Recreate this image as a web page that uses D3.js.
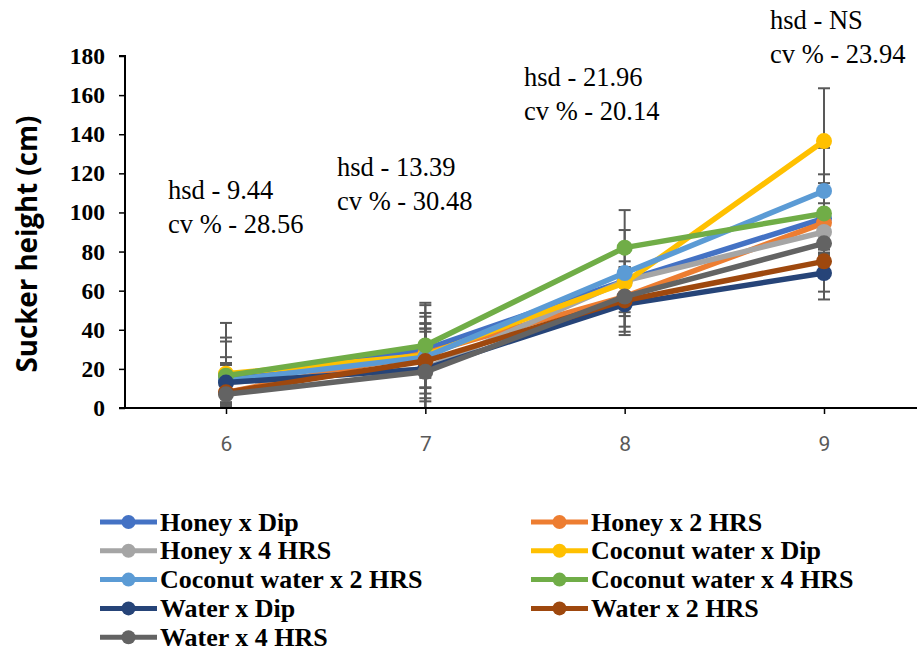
<!DOCTYPE html>
<html>
<head>
<meta charset="utf-8">
<script src="https://cdn.jsdelivr.net/npm/d3@7"></script>
<style>
  html, body { margin: 0; padding: 0; background: #fff; }
  svg { display: block; }
</style>
</head>
<body>
<svg id="chart" width="917" height="652"></svg>
<script>
// ---- data ----
const categories = [6, 7, 8, 9];
const seriesNames = [
  "Honey x Dip", "Honey x 2 HRS", "Honey x 4 HRS",
  "Coconut water x Dip", "Coconut water x 2 HRS", "Coconut water x 4 HRS",
  "Water x Dip", "Water x 2 HRS", "Water x 4 HRS"
];
const seriesColors = ["#4472C4", "#ED7D31", "#A5A5A5", "#FFC000", "#5B9BD5", "#70AD47", "#264478", "#9E480E", "#636363"];
const honeyDip      = [16, 30, 65, 97];
const honey2        = [8, 28, 57, 94.7];
const honey4        = [13, 20, 65, 90];
const coconutDip    = [17.5, 27, 64, 136.5];
const coconut2      = [14, 26, 69, 111];
const coconut4      = [16.5, 32, 82, 99.5];
const waterDip      = [13, 20, 53, 69];
const water2        = [8, 24, 55, 75];
const water4        = [7, 18.5, 57, 84.2];
const errHoneyDip   = [18, 22.6, 6, 18];
const errHoney2     = [7, 12.6, 8, 10];
const errHoney4     = [10, 20.6, 7, 9];
const errCoconutDip = [26, 16.4, 8, 27];
const errCoconut2   = [8, 22.6, 22, 22];
const errCoconut4   = [19.5, 21.8, 19.2, 20];
const errWaterDip   = [13, 26.7, 15.7, 13.5];
const errWater2     = [6, 19, 13.4, 15.5];
const errWater4     = [5, 20.5, 18, 6];
const yTicks = [0, 20, 40, 60, 80, 100, 120, 140, 160, 180];
const annotations = [
  ["hsd - 9.44", "cv % - 28.56"],
  ["hsd - 13.39", "cv % - 30.48"],
  ["hsd - 21.96", "cv % - 20.14"],
  ["hsd - NS", "cv % - 23.94"]
];
const yTitle = "Sucker height (cm)";

const values = [honeyDip, honey2, honey4, coconutDip, coconut2, coconut4, waterDip, water2, water4];
const errors = [errHoneyDip, errHoney2, errHoney4, errCoconutDip, errCoconut2, errCoconut4, errWaterDip, errWater2, errWater4];

// ---- layout ----
const svg = d3.select("#chart");
const plotL = 125, plotR = 917, plotT = 56, plotB = 408;
const x = d3.scalePoint().domain(categories).range([226, 824]);
const y = d3.scaleLinear().domain([0, 180]).range([plotB, plotT]);

svg.append("defs").append("clipPath").attr("id", "plotclip")
  .append("rect").attr("x", plotL).attr("y", 0).attr("width", plotR - plotL).attr("height", plotB - 0);

// annotations
const annPos = [[168, 199], [337, 176], [524, 86], [770, 29]];
annotations.forEach((a, i) => {
  a.forEach((t, j) => {
    svg.append("text")
      .attr("x", annPos[i][0]).attr("y", annPos[i][1] + j * 34)
      .attr("font-family", "'Liberation Serif', 'Times New Roman', serif")
      .attr("font-size", 26.5).attr("fill", "#000").text(t);
  });
});

// error bars
const eb = svg.append("g").attr("clip-path", "url(#plotclip)");
values.forEach((vals, s) => {
  vals.forEach((v, i) => {
    const cx = x(categories[i]);
    const e = errors[s][i];
    const y1 = y(v + e), y2 = y(v - e);
    eb.append("line").attr("x1", cx).attr("x2", cx).attr("y1", y1).attr("y2", y2)
      .attr("stroke", "#595959").attr("stroke-width", 2);
    [y1, y2].forEach(yy => {
      eb.append("line").attr("x1", cx - 6).attr("x2", cx + 6).attr("y1", yy).attr("y2", yy)
        .attr("stroke", "#595959").attr("stroke-width", 2);
    });
  });
});

// axes
const yAxis = d3.axisLeft(y).tickValues(yTicks).tickSize(6).tickPadding(14);
const gy = svg.append("g").attr("transform", `translate(${plotL},0)`).call(yAxis);
gy.select(".domain").attr("stroke", "#000").attr("stroke-width", 2).attr("d", `M-6,${plotT}H0V${plotB}H-6`);
gy.selectAll(".tick line").attr("stroke", "#000").attr("stroke-width", 1.5);
gy.selectAll(".tick text").attr("font-family", "'Liberation Serif', 'Times New Roman', serif")
  .attr("font-weight", "bold").attr("font-size", 23.5).attr("fill", "#000");

const xAxis = d3.axisBottom(x).tickSize(6).tickPadding(22);
const gx = svg.append("g").attr("transform", `translate(0,${plotB})`).call(xAxis);
gx.select(".domain").attr("stroke", "#000").attr("stroke-width", 2).attr("d", `M${plotL},0H${plotR}`);
gx.selectAll(".tick line").attr("stroke", "#000").attr("stroke-width", 1.5);
gx.selectAll(".tick text").attr("font-family", "Roboto, 'Open Sans', sans-serif")
  .attr("font-size", 21).attr("fill", "#595959");

svg.append("text")
  .attr("transform", `translate(37,${(plotT + plotB) / 2 + 12}) rotate(-90)`)
  .attr("text-anchor", "middle")
  .attr("font-family", "'Open Sans', 'Noto Sans', sans-serif")
  .attr("font-weight", "bold").attr("font-size", 28).attr("fill", "#000")
  .attr("textLength", 257).attr("lengthAdjust", "spacingAndGlyphs")
  .text(yTitle);

// lines + markers
const line = d3.line().x((d, i) => x(categories[i])).y(d => y(d));
values.forEach((vals, s) => {
  const g = svg.append("g");
  g.append("path").datum(vals).attr("d", line).attr("fill", "none")
    .attr("stroke", seriesColors[s]).attr("stroke-width", 5.5).attr("stroke-linejoin", "round");
  g.selectAll("circle").data(vals).join("circle")
    .attr("cx", (d, i) => x(categories[i])).attr("cy", d => y(d)).attr("r", 8)
    .attr("fill", seriesColors[s]);
});

// legend
const legend = svg.append("g");
seriesNames.forEach((name, s) => {
  const col = s % 2, row = Math.floor(s / 2);
  const lx = col === 0 ? 100 : 531;
  const ly = 522 + row * 28.8;
  legend.append("line").attr("x1", lx).attr("x2", lx + 57).attr("y1", ly).attr("y2", ly)
    .attr("stroke", seriesColors[s]).attr("stroke-width", 5);
  legend.append("circle").attr("cx", lx + 28.5).attr("cy", ly).attr("r", 7).attr("fill", seriesColors[s]);
  legend.append("text").attr("x", lx + 60).attr("y", ly + 8.5)
    .attr("font-family", "'Liberation Serif', 'Times New Roman', serif")
    .attr("font-weight", "bold").attr("font-size", 26).attr("fill", "#000").text(name);
});
</script>
</body>
</html>
